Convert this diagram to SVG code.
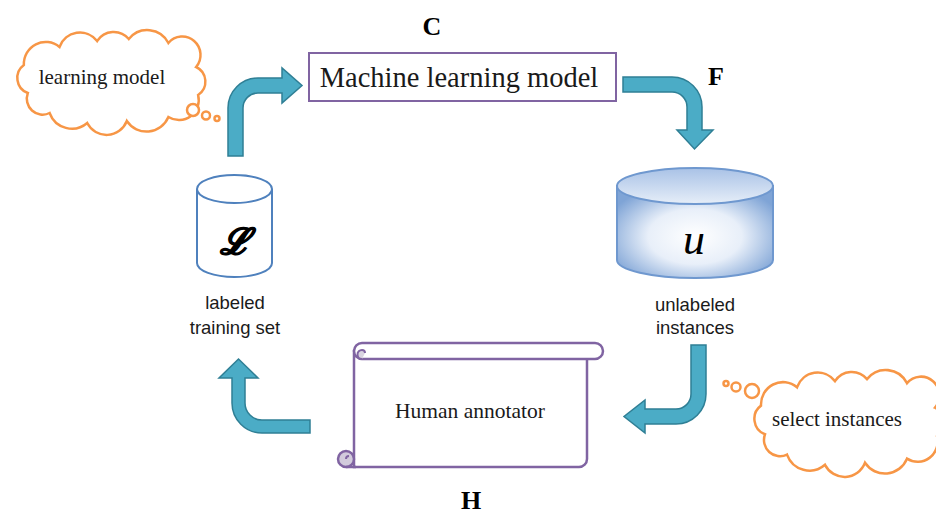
<svg xmlns="http://www.w3.org/2000/svg" width="936" height="516" viewBox="0 0 936 516">
  <style>
    .serif { font-family: "Liberation Serif", "Times New Roman", serif; fill: #1a1a1a; }
    .sans { font-family: "Liberation Sans", Arial, sans-serif; fill: #1a1a1a; font-size: 18.5px; text-anchor: middle; }
    .letter { font-family: "Liberation Serif", serif; font-weight: bold; font-size: 26px; text-anchor: middle; fill: #000; }
    .arrow { fill: #4BACC6; stroke: #2f7f95; stroke-width: 1.5; stroke-linejoin: miter; }
    .cloud { fill: #fff; stroke: #F79646; stroke-width: 2.5; }
    .purple { fill: #fff; stroke: #8064A2; stroke-width: 2.5; }
  </style>
  <defs>
    <path id="cloud-shape" d="M18,60 A16,16 0 0 1 14,32 A22,22 0 0 1 50,14 A22,22 0 0 1 88,8 A20,20 0 0 1 120,6 A24,24 0 0 1 160,10 A18,18 0 0 1 188,34 A16,16 0 0 1 190,62 A20,20 0 0 1 160,84 A24,24 0 0 1 118,88 A22,22 0 0 1 78,90 A24,24 0 0 1 40,80 A16,16 0 0 1 18,60 Z"/>
    <radialGradient id="uFill" cx="0.5" cy="0.55" r="0.6">
      <stop offset="0" stop-color="#ffffff"/>
      <stop offset="0.5" stop-color="#e8eff9"/>
      <stop offset="1" stop-color="#7fa4d6"/>
    </radialGradient>
    <linearGradient id="uTop" x1="0" y1="0" x2="0" y2="1">
      <stop offset="0" stop-color="#a9c2e6"/>
      <stop offset="1" stop-color="#e6eef8"/>
    </linearGradient>
  </defs>

  <rect width="936" height="516" fill="#fff"/>

  <!-- connectors -->
  <g id="connectors">
    <path class="arrow" d="M228,156 L228,108 A30,30 0 0 1 258,78 L282,78 L282,68 L302,85.5 L282,103 L282,93 L258,93 A15,15 0 0 0 243,108 L243,156 Z"/>
    <path class="arrow" d="M623,77 L672,77 A30,30 0 0 1 702,107 L702,130 L713,130 L694.5,149 L677,130 L687,130 L687,107 A15,15 0 0 0 672,92 L623,92 Z"/>
    <path class="arrow" d="M691,345 L706,345 L706,394 A30,30 0 0 1 676,424 L645,424 L645,433 L624,416.5 L645,400 L645,409 L676,409 A15,15 0 0 0 691,394 Z"/>
    <path class="arrow" d="M310,420 L310,433 L262,433 A30,30 0 0 1 232,403 L232,378 L219,378 L238.5,359 L258,378 L245,378 L245,403 A17,17 0 0 0 262,420 Z"/>
  </g>

  <!-- thought cloud: learning model -->
  <g id="cloud-learning">
    <use href="#cloud-shape" class="cloud" transform="translate(10,33) scale(0.99,1)"/>
    <circle class="cloud" cx="193" cy="110" r="6" stroke-width="2"/>
    <circle class="cloud" cx="206" cy="115.5" r="4" stroke-width="2"/>
    <circle class="cloud" cx="217" cy="118.5" r="2.5" stroke-width="1.8"/>
    <text class="serif" x="102" y="84" font-size="21" text-anchor="middle">learning model</text>
  </g>

  <!-- letters -->
  <text class="letter" x="432" y="35">C</text>
  <text class="letter" x="716" y="85">F</text>
  <text class="letter" x="471" y="509">H</text>

  <!-- machine learning model box -->
  <g id="model">
    <rect x="309" y="53" width="307" height="48" fill="#fff" stroke="#8064A2" stroke-width="2"/>
    <text class="serif" x="459" y="87" font-size="28.5" text-anchor="middle">Machine learning model</text>
  </g>

  <!-- labeled training set -->
  <g id="labeled-set">
    <path d="M197,189 L197,263 A37.5,14 0 0 0 272,263 L272,189" fill="#fff" stroke="#4F81BD" stroke-width="2"/>
    <ellipse cx="234.5" cy="189" rx="37.5" ry="14" fill="#fff" stroke="#4F81BD" stroke-width="2"/>
    <text x="235" y="254" font-family="DejaVu Serif, serif" font-style="italic" font-weight="bold" font-size="36" text-anchor="middle" fill="#000" stroke="#000" stroke-width="1.2">ℒ</text>
    <text class="sans" x="235" y="309">labeled</text>
    <text class="sans" x="235" y="334">training set</text>
  </g>

  <!-- unlabeled instances -->
  <g id="unlabeled-set">
    <path d="M617,186 L617,260 A78,18 0 0 0 773,260 L773,186 Z" fill="url(#uFill)" stroke="#6f98cf" stroke-width="2"/>
    <ellipse cx="695" cy="186" rx="78" ry="18" fill="url(#uTop)" stroke="#6f98cf" stroke-width="2"/>
    <text x="694" y="254" font-family="Liberation Serif, serif" font-style="italic" font-size="44" text-anchor="middle" fill="#000">u</text>
    <text class="sans" x="695" y="311">unlabeled</text>
    <text class="sans" x="695" y="334">instances</text>
  </g>

  <!-- human annotator scroll -->
  <g id="annotator">
    <path class="purple" d="M354,351 L354,467 L579,467 A8,8 0 0 0 587,459 L587,355 Z"/>
    <rect class="purple" x="354" y="343" width="249" height="16" rx="8"/>
    <path d="M362,359 A4.5,4.5 0 0 1 362,350 A3,3 0 0 1 365,353" fill="#d9d4e0" stroke="#8064A2" stroke-width="2"/>
    <circle cx="346" cy="459" r="8" fill="#d2cbdc" stroke="#8064A2" stroke-width="2.5"/>
    <path d="M346,459 A3,3 0 0 1 349,456" fill="none" stroke="#8064A2" stroke-width="2"/>
    <line x1="346" y1="467" x2="356" y2="467" stroke="#8064A2" stroke-width="2.5"/>
    <text class="serif" x="470" y="418" font-size="21.5" text-anchor="middle">Human annotator</text>
  </g>

  <!-- thought cloud: select instances -->
  <g id="cloud-select">
    <use href="#cloud-shape" class="cloud" transform="translate(747,373) scale(1,1.02)"/>
    <circle class="cloud" cx="752" cy="391" r="7" stroke-width="2"/>
    <circle class="cloud" cx="736" cy="387" r="4.5" stroke-width="2"/>
    <circle class="cloud" cx="726" cy="383.5" r="2.5" stroke-width="1.8"/>
    <text class="serif" x="837" y="426" font-size="21" text-anchor="middle">select instances</text>
  </g>
</svg>
